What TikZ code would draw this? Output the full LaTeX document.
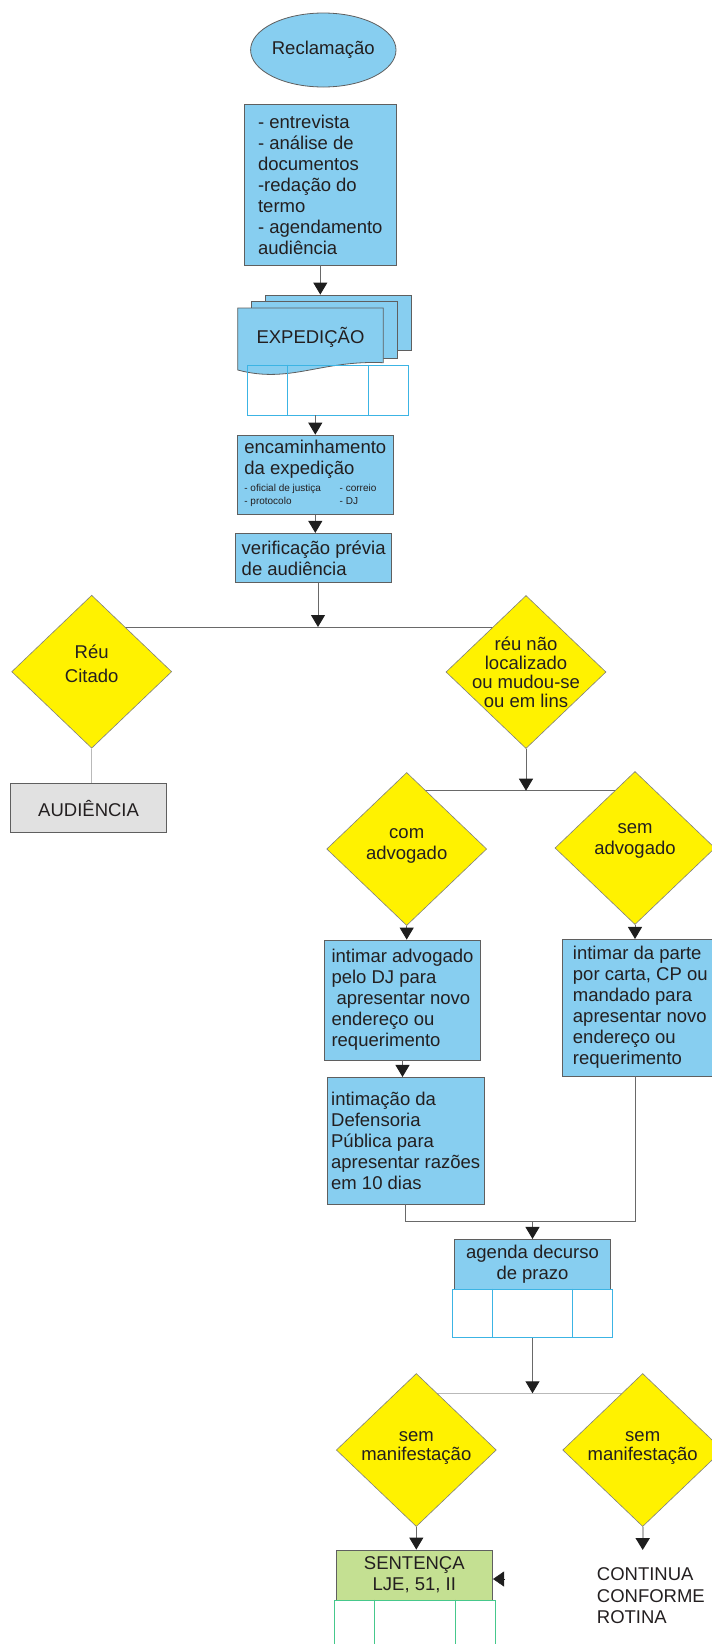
\documentclass[tikz,border=0pt]{standalone}
\usepackage{fontspec}
\setmainfont{Liberation Sans}
\usetikzlibrary{shapes.geometric,arrows.meta,backgrounds,calc}
\definecolor{skyb}{RGB}{135,206,240}
\definecolor{yel}{RGB}{255,242,0}
\definecolor{grayfill}{RGB}{225,225,225}
\definecolor{greenfill}{RGB}{196,224,146}
\definecolor{edgec}{RGB}{95,95,95}
\definecolor{linec}{RGB}{105,105,105}
\definecolor{lightc}{RGB}{185,185,185}
\definecolor{tabblue}{RGB}{60,180,228}
\definecolor{tabgreen}{RGB}{70,200,140}
\definecolor{inkc}{RGB}{35,31,32}
\definecolor{tipc}{RGB}{30,30,30}
\begin{document}
\begin{tikzpicture}[x=1pt,y=-1pt,font=\fontsize{18.5}{21}\selectfont,text=inkc,
blk/.style={draw=edgec,line width=.8pt,fill=skyb,align=left,inner sep=0pt},
dec/.style={diamond,draw=edgec!80,line width=.6pt,fill=yel,minimum width=160pt,minimum height=153pt,inner sep=0pt},
dtext/.style={align=center,text=inkc},
tab/.style={draw=#1,line width=.8pt,minimum width=160.5pt,inner sep=0pt},
conn/.style={draw=linec,line width=1pt},
flow/.style={conn,-{Triangle[width=14pt,length=12pt,color=tipc]}},
sheet/.style={draw=edgec,line width=.8pt,fill=skyb,inner sep=0pt}]
\useasboundingbox(0,0)rectangle(712,1644);
\clip(0,0)rectangle(712,1644);
\node[ellipse,draw=edgec,line width=.8pt,fill=skyb,minimum width=145pt,minimum height=74pt,inner sep=0pt](recl)at(323.3,50){Reclamação};
\node[blk,minimum width=152.7pt,minimum height=161pt](tasks)at(320.3,184.5){- entrevista\\- análise de\\documentos\\-redação do\\termo\\- agendamento\\audiência};
\node[sheet,minimum width=145.3pt,minimum height=55pt](sh3)at(338.3,322.5){};
\node[sheet,minimum width=146pt,minimum height=57pt](sh2)at(324.7,329.5){};
\draw[sheet](237.7,308)--(383.3,308)--(383.3,362.7)..controls(320,360)and(290,384)..(237.7,370)--cycle;
\node(exped)at(310.5,337){EXPEDIÇÃO};
\node[tab=tabblue,minimum height=50pt](etab)at(327.8,390){};
\foreach\f in{0.25,0.75}{
\draw[tabblue,line width=.8pt]($(etab.north west)!\f!(etab.north east)$)--($(etab.south west)!\f!(etab.south east)$);}
\node[blk,minimum width=156pt,minimum height=79.3pt](enc)at(315.3,474.7){encaminhamento\\da expedição\\[-4pt]{\fontsize{10}{13}\selectfont\begin{tabular}[t]{@{}l@{\hspace{18.7pt}}l@{}}- oficial de justiça&- correio\\- protocolo&- DJ\end{tabular}}};
\node[blk,minimum width=156pt,minimum height=49.4pt](verif)at(313.7,558){verificação prévia\\de audiência};
\draw[flow](tasks.south)--(tasks.south|-sh3.north);
\draw[flow](etab.south-|enc.north)--(enc.north);
\draw[flow](enc.south)--(enc.south|-verif.north);
\coordinate(j1)at(318,627);
\draw[flow](verif.south-|j1)--(j1);
\node[dec,label={[dtext,yshift=8pt,font=\fontsize{18.5}{23.3}\selectfont]center:Réu\\Citado}](rcit)at(91.7,671.7){};
\node[dec,label={[dtext,font=\fontsize{18.5}{19}\selectfont]center:réu não\\localizado\\ou mudou-se\\ou em lins}](rnl)at(526,672){};
\node[blk,fill=grayfill,align=center,minimum width=156.2pt,minimum height=49.4pt](aud)at(88.6,808){AUDIÊNCIA};
\draw[lightc,line width=1pt](rcit.south)--(rcit.south|-aud.north);
\coordinate(j2)at(526,790.7);
\draw[flow](rnl.south)--(j2);
\node[dec,label={[dtext,yshift=3pt,font=\fontsize{18.5}{20.7}\selectfont]center:com\\advogado}](cadv)at(406.7,849){};
\node[dec,label={[dtext,yshift=7pt,font=\fontsize{18.5}{20.7}\selectfont]center:sem\\advogado}](sadv)at(635,848){};
\node[blk,minimum width=156.4pt,minimum height=120pt](intadv)at(402.5,1000){intimar advogado\\pelo DJ para\\\hspace*{5pt}apresentar novo\\endereço ou\\requerimento};
\node[blk,minimum width=156.7pt,minimum height=126.7pt](defens)at(405.7,1140.7){intimação da\\Defensoria\\Pública para\\apresentar razões\\em 10 dias};
\node[blk,minimum width=156pt,minimum height=136.7pt](intparte)at(640.3,1007.7){intimar da parte\\por carta, CP ou\\mandado para\\apresentar novo\\endereço ou\\requerimento};
\draw[flow](cadv.south)--(cadv.south|-intadv.north);
\draw[flow](sadv.south)--(sadv.south|-intparte.north);
\draw[flow](intadv.south)--(intadv.south|-defens.north);
\coordinate(j3)at(532.5,1221.7);
\draw[conn](defens.south)|-(j3)-|(intparte.south-|sadv);
\node[blk,align=center,minimum width=156.4pt,minimum height=49.7pt](agenda)at(532.5,1264.2){agenda decurso\\de prazo};
\draw[flow](j3)--(agenda.north);
\node[tab=tabblue,minimum height=48.7pt](atab)at(532.5,1313.4){};
\foreach\f in{0.25,0.75}{
\draw[tabblue,line width=.8pt]($(atab.north west)!\f!(atab.north east)$)--($(atab.south west)!\f!(atab.south east)$);}
\coordinate(j4)at(532.5,1393.3);
\draw[flow](atab.south)--(j4);
\node[dec,label={[dtext,yshift=2pt,font=\fontsize{18.5}{19}\selectfont]center:sem\\manifestação}](sman1)at(416.3,1450){};
\node[dec,label={[dtext,yshift=2pt,font=\fontsize{18.5}{19}\selectfont]center:sem\\manifestação}](sman2)at(642.7,1450){};
\node[blk,fill=greenfill,align=center,minimum width=156.7pt,minimum height=50pt](sent)at(414.3,1575){SENTENÇA\\LJE, 51, II};
\draw[flow](sman1.south)--(sman1.south|-sent.north);
\node[tab=tabgreen,minimum height=60pt](stab)at(414.7,1630){};
\foreach\f in{0.25,0.75}{
\draw[tabgreen,line width=.8pt]($(stab.north west)!\f!(stab.north east)$)--($(stab.south west)!\f!(stab.south east)$);}
\coordinate(fb)at(505,1579);
\draw[tipc,-{Triangle[width=15pt,length=11pt]}](fb)--(sent.east|-fb);
\node[align=left,anchor=north west,inner sep=0pt,font=\fontsize{18.5}{21.2}\selectfont](cont)at(596.7,1567.7){CONTINUA\\CONFORME\\ROTINA};
\draw[lightc,line width=2pt,shorten >=17.7pt,-{Triangle[width=14pt,length=12pt,color=tipc]}](sman2.south)--(sman2.south|-cont.north);
\begin{pgfonlayer}{background}
\draw[conn](j1-|rcit)--(j1-|rnl);
\draw[conn](j2-|cadv)--(j2-|sadv);
\draw[lightc,line width=1pt](j4-|sman1)--(j4-|sman2);
\end{pgfonlayer}
\end{tikzpicture}
\end{document}
